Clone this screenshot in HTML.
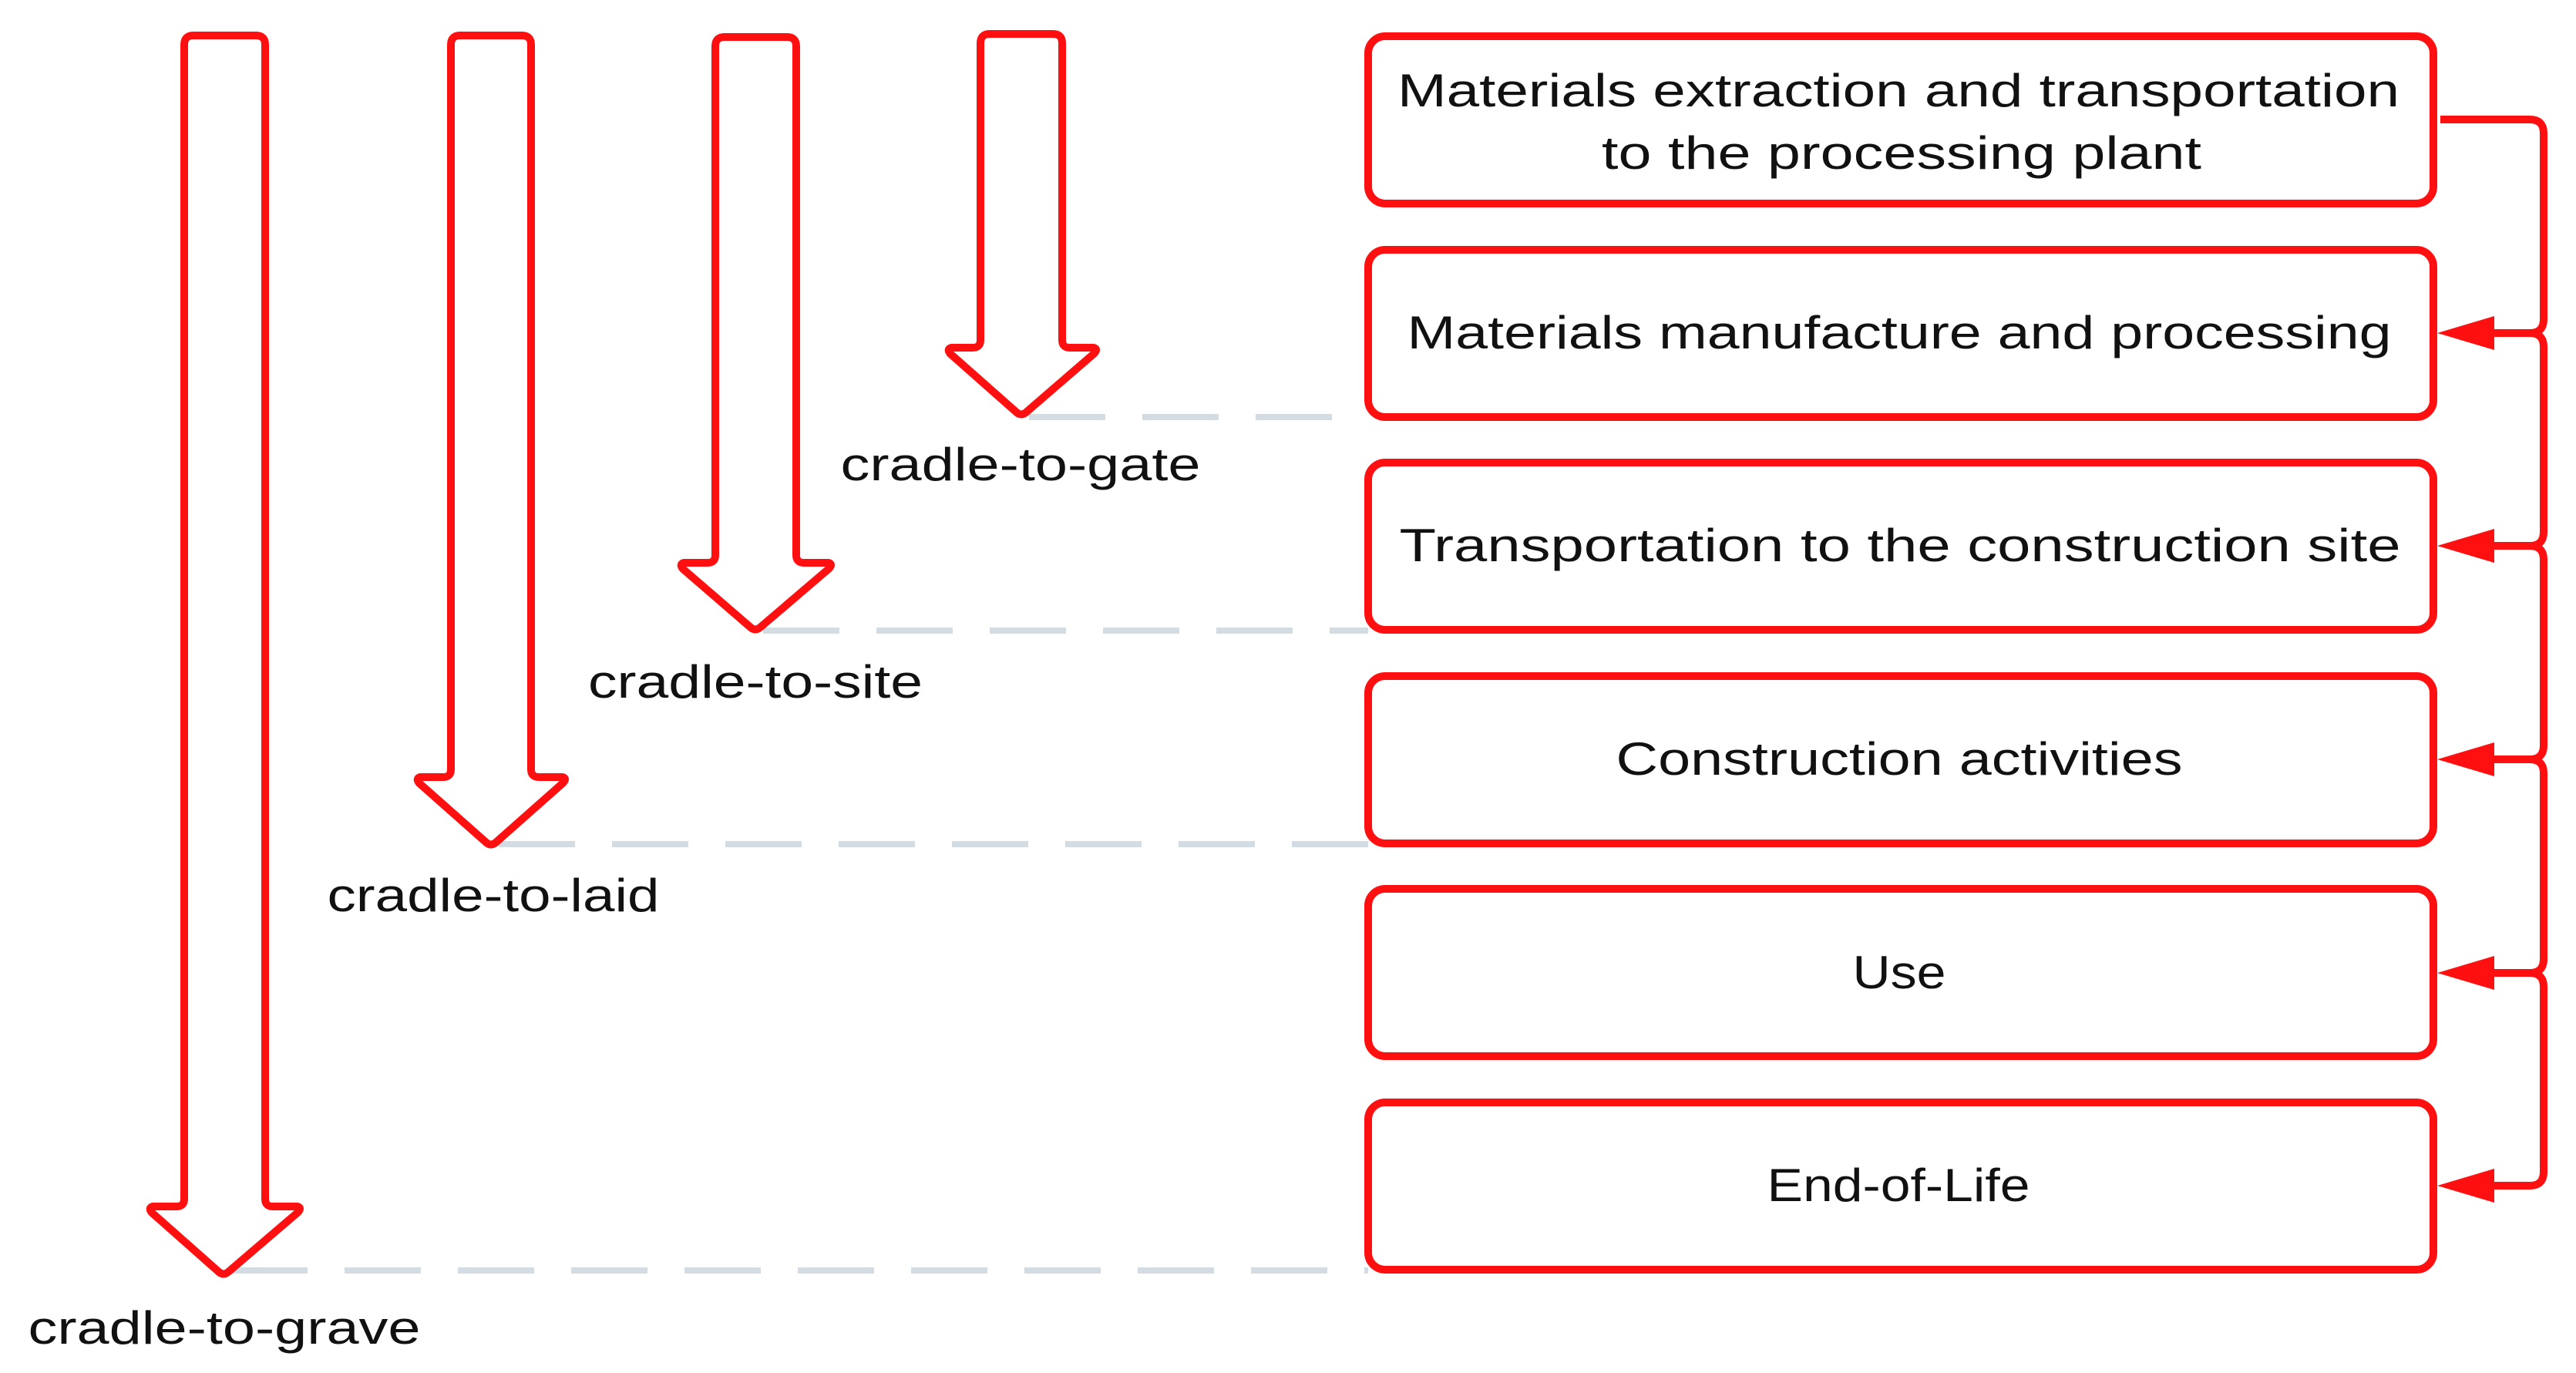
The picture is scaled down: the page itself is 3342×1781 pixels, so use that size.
<!DOCTYPE html>
<html><head><meta charset="utf-8"><style>html,body{margin:0;padding:0;background:#fff}svg{display:block}</style></head>
<body>
<svg width="3342" height="1781" viewBox="0 0 3342 1781" xmlns="http://www.w3.org/2000/svg">
<g stroke="#d3dbe3" stroke-width="8" stroke-dasharray="99 48" fill="none">
<line x1="1335" y1="541" x2="1775" y2="541"/>
<line x1="990" y1="818" x2="1775" y2="818"/>
<line x1="647" y1="1095" x2="1775" y2="1095"/>
<line x1="300" y1="1648" x2="1775" y2="1648"/>
</g>
<g stroke="#ff1010" stroke-width="10" fill="#fff" stroke-linejoin="round">
<path d="M239,58 Q239,46 251,46 H332 Q344,46 344,58 V1555 Q344,1565 354,1565 H386 Q392,1567 386,1573 L296,1650 Q290,1655 284,1650 L197,1573 Q192,1567 198,1565 H229 Q239,1565 239,1555 Z"/>
<path d="M585,58 Q585,46 597,46 H677 Q689,46 689,58 V998 Q689,1008 699,1008 H730 Q736,1010 730,1016 L643,1093 Q637,1098 631,1093 L544,1016 Q539,1010 545,1008 H575 Q585,1008 585,998 Z"/>
<path d="M928,60 Q928,48 940,48 H1021 Q1033,48 1033,60 V720 Q1033,730 1043,730 H1075 Q1081,732 1075,738 L986,814 Q980,819 974,814 L886,738 Q881,732 887,730 H918 Q928,730 928,720 Z"/>
<path d="M1272,56 Q1272,44 1284,44 H1366 Q1378,44 1378,56 V441 Q1378,451 1388,451 H1419 Q1425,453 1419,459 L1331,535 Q1325,540 1319,535 L1233,459 Q1228,453 1234,451 H1262 Q1272,451 1272,441 Z"/>
</g>
<g stroke="#ff1010" stroke-width="10" fill="#fff">
<rect x="1775" y="47" width="1382" height="217" rx="22"/>
<rect x="1775" y="324" width="1382" height="217" rx="22"/>
<rect x="1775" y="600" width="1382" height="217" rx="22"/>
<rect x="1775" y="877" width="1382" height="217" rx="22"/>
<rect x="1775" y="1153" width="1382" height="217" rx="22"/>
<rect x="1775" y="1430" width="1382" height="217" rx="22"/>
</g>
<g stroke="#ff1010" stroke-width="10" fill="none">
<path d="M3166,155 H3282 Q3300,155 3300,173 V414 Q3300,432 3282,432 H3220"/>
<path d="M3282,432 Q3300,432 3300,450 V690 Q3300,708 3282,708 H3220"/>
<path d="M3282,708 Q3300,708 3300,726 V967 Q3300,985 3282,985 H3220"/>
<path d="M3282,985 Q3300,985 3300,1003 V1244 Q3300,1262 3282,1262 H3220"/>
<path d="M3282,1262 Q3300,1262 3300,1280 V1520 Q3300,1538 3282,1538 H3220"/>
</g>
<g fill="#ff1010">
<polygon points="3162,432 3236,410 3236,454"/>
<polygon points="3162,708 3236,686 3236,730"/>
<polygon points="3162,985 3236,963 3236,1007"/>
<polygon points="3162,1262 3236,1240 3236,1284"/>
<polygon points="3162,1538 3236,1516 3236,1560"/>
</g>
<g font-family="'Liberation Sans', 'DejaVu Sans', sans-serif" font-size="60" fill="#111" text-anchor="middle">
<text x="2463" y="138" textLength="1300" lengthAdjust="spacingAndGlyphs">Materials extraction and transportation</text>
<text x="2467" y="219" textLength="778" lengthAdjust="spacingAndGlyphs">to the processing plant</text>
<text x="2464" y="452" textLength="1277" lengthAdjust="spacingAndGlyphs">Materials manufacture and processing</text>
<text x="2465" y="728" textLength="1299" lengthAdjust="spacingAndGlyphs">Transportation to the construction site</text>
<text x="2464" y="1005" textLength="735" lengthAdjust="spacingAndGlyphs">Construction activities</text>
<text x="2464" y="1282" textLength="121" lengthAdjust="spacingAndGlyphs">Use</text>
<text x="2463" y="1558" textLength="341" lengthAdjust="spacingAndGlyphs">End-of-Life</text>
<text x="1324" y="623" textLength="467" lengthAdjust="spacingAndGlyphs">cradle-to-gate</text>
<text x="980" y="905" textLength="434" lengthAdjust="spacingAndGlyphs">cradle-to-site</text>
<text x="640" y="1182" textLength="431" lengthAdjust="spacingAndGlyphs">cradle-to-laid</text>
<text x="291" y="1743" textLength="509" lengthAdjust="spacingAndGlyphs">cradle-to-grave</text>
</g>
</svg>
</body></html>
